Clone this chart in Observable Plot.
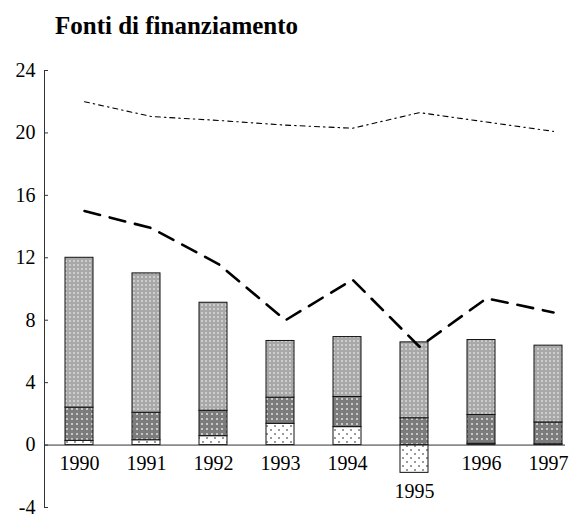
<!DOCTYPE html>
<html>
<head>
<meta charset="utf-8">
<script src="https://cdn.jsdelivr.net/npm/d3@7"></script>
<script src="https://cdn.jsdelivr.net/npm/@observablehq/plot@0.6"></script>
<style>
  body { margin: 0; background: #fff; }
  #title { height: 47px; box-sizing: border-box; padding: 12px 0 0 55px; font: bold 25px "Liberation Serif", "Times New Roman", serif; color: #000; }
  #chart svg { display: block; }
</style>
</head>
<body>
<div id="title">Fonti di finanziamento</div>
<div id="chart"></div>
<script>
// Data
const years = [1990, 1991, 1992, 1993, 1994, 1995, 1996, 1997];
const seriesNames = ["serie1", "serie2", "serie3"];
const serie1 = [0.27, 0.31, 0.57, 1.36, 1.15, -1.78, 0.08, 0.05];   // white dotted (bottom)
const serie2 = [2.13, 1.76, 1.63, 1.68, 1.93, 1.72, 1.85, 1.40];    // dark checkered (middle)
const serie3 = [9.60, 8.93, 6.92, 3.63, 3.84, 4.86, 4.80, 4.92];    // light grey (top)
const lineDashed = [15.0, 13.9, 11.6, 8.0, 10.6, 6.3, 9.4, 8.5];
const lineDashDot = [22.0, 21.05, 20.8, 20.5, 20.3, 21.3, 20.7, 20.1];
const yTicks = [-4, 0, 4, 8, 12, 16, 20, 24];

const seriesValues = [serie1, serie2, serie3];
const barRows = years.flatMap((year, i) =>
  seriesNames.map((s, k) => ({year, series: s, value: seriesValues[k][i]}))
);
const lineRows1 = years.map((year, i) => ({year, value: lineDashed[i]}));
const lineRows2 = years.map((year, i) => ({year, value: lineDashDot[i]}));
const labelRows = years.map((year, i) => ({year, y: Math.min(0, serie1[i])}));

const plot = Plot.plot({
  width: 575,
  height: 470,
  marginTop: 23,
  marginBottom: 10,
  marginLeft: 44,
  marginRight: 10,
  style: {fontFamily: "'Liberation Serif', 'Times New Roman', serif", fontSize: "20px", color: "#000", background: "#fff"},
  x: {type: "band", domain: years, range: [63, 564], paddingInner: 0.586, paddingOuter: 0, axis: null},
  y: {domain: [-4, 24], axis: null},
  color: {type: "ordinal", domain: seriesNames, range: ["url(#pw)", "url(#pd)", "url(#pl)"]},
  marks: [
    Plot.barY(barRows, Plot.stackY({x: "year", y: "value", fill: "series", stroke: "#111", strokeWidth: 1})),
    Plot.ruleY([0], {stroke: "#333", strokeWidth: 1}),
    Plot.frame({anchor: "left", stroke: "#333"}),
    Plot.axisY(yTicks, {tickSize: -4, tickPadding: 13, tickFormat: d => String(d), fontSize: 20, stroke: "#333"}),
    Plot.line(lineRows1, {x: "year", y: "value", dx: 5, stroke: "#000", strokeWidth: 2.6, strokeDasharray: "16,10"}),
    Plot.line(lineRows2, {x: "year", y: "value", dx: 5, stroke: "#000", strokeWidth: 1.1, strokeDasharray: "5,4,1.5,4"}),
    Plot.text(labelRows, {x: "year", y: "y", text: d => String(d.year), lineAnchor: "top", dy: 11, fontSize: 20, fill: "#000"})
  ]
});

plot.insertAdjacentHTML("afterbegin", `
<defs>
  <pattern id="pw" patternUnits="userSpaceOnUse" width="8" height="8">
    <rect width="8" height="8" fill="#ffffff"/>
    <rect x="2" y="2" width="2" height="2" fill="#9a9a9a"/>
    <rect x="6" y="6" width="2" height="2" fill="#9a9a9a"/>
  </pattern>
  <pattern id="pd" patternUnits="userSpaceOnUse" width="5" height="5">
    <rect width="5" height="5" fill="#7c7c7c"/>
    <rect x="1" y="1" width="2" height="2" fill="#c8c8c8"/>
  </pattern>
  <pattern id="pl" patternUnits="userSpaceOnUse" width="4" height="4">
    <rect width="4" height="4" fill="#a8a8a8"/>
    <rect x="1" y="1" width="2" height="2" fill="#cdcdcd"/>
  </pattern>
</defs>`);

document.getElementById("chart").appendChild(plot);
</script>
</body>
</html>
